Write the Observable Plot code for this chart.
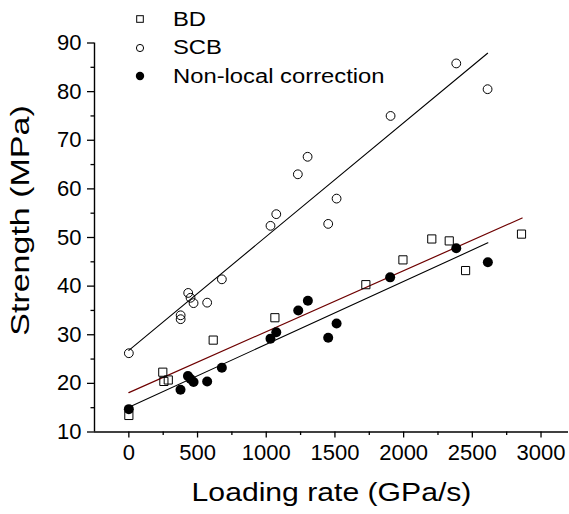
<!DOCTYPE html>
<html>
<head>
<meta charset="utf-8">
<script src="https://cdn.jsdelivr.net/npm/d3@7"></script>
<script src="https://cdn.jsdelivr.net/npm/@observablehq/plot@0.6"></script>
<style>
  body { margin: 0; background: #fff; }
  #wrap { position: relative; width: 569px; height: 514px; font-family: "Liberation Sans", Arial, sans-serif; }
  #legend { position: absolute; left: 132px; top: 5px; }
  .row { display: flex; align-items: center; height: 28.5px; }
  .row svg { width: 16px; height: 16px; margin-right: 25px; }
  .row span { font-size: 19.5px; color: #000; display: inline-block; transform: scaleX(1.22); transform-origin: left center; }
</style>
</head>
<body>
<div id="wrap"></div>
<script>
// BD (open squares)
const bdX = [0, 247, 255, 287, 614, 1063, 1725, 1995, 2205, 2332, 2451, 2858];
const bdY = [13.4, 22.3, 20.4, 20.7, 28.9, 33.5, 40.3, 45.4, 49.7, 49.3, 43.2, 50.7];
// SCB (open circles)
const scbX = [0, 377, 377, 432, 449, 471, 570, 677, 1031, 1073, 1230, 1301, 1451, 1512, 1905, 2383, 2611];
const scbY = [26.2, 34.0, 33.2, 38.6, 37.6, 36.5, 36.6, 41.4, 52.4, 54.8, 63.0, 66.6, 52.8, 58.0, 75.0, 85.8, 80.5];
// Non-local correction (filled circles)
const nlX = [0, 376, 430, 449, 471, 570, 677, 1031, 1073, 1233, 1303, 1451, 1512, 1902, 2383, 2613];
const nlY = [14.7, 18.7, 21.5, 20.9, 20.3, 20.4, 23.2, 29.2, 30.5, 35.0, 37.0, 29.4, 32.3, 41.8, 47.8, 44.9];
// Fit lines (end points)
const scbFitX = [0, 2611], scbFitY = [26.8, 87.9];
const bdFitX = [0, 2863], bdFitY = [18.1, 54.0];
const nlFitX = [0, 2613], nlFitY = [15.1, 48.9];
// Ticks
const xMajor = [0, 500, 1000, 1500, 2000, 2500, 3000];
const xMinor = [250, 750, 1250, 1750, 2250, 2750];
const yMajor = [10, 20, 30, 40, 50, 60, 70, 80, 90];
const yMinor = [15, 25, 35, 45, 55, 65, 75, 85];
const xLabel = "Loading rate (GPa/s)";
const yLabel = "Strength (MPa)";
const legendItems = ["BD", "SCB", "Non-local correction"];

const rows = (xs, ys) => xs.map((x, i) => ({x, y: ys[i]}));
const FONT = "'Liberation Sans', Arial, sans-serif";

const chart = Plot.plot({
  width: 569, height: 514,
  marginLeft: 94, marginRight: 1, marginTop: 42.5, marginBottom: 82.5,
  style: {fontFamily: FONT, background: "white", color: "black", overflow: "visible"},
  x: {domain: [-250, 3200]},
  y: {domain: [10, 90]},
  marks: [
    Plot.axisX(xMajor, {tickSize: 6, tickPadding: 6, fontSize: 22, label: null, strokeWidth: 1.3, tickFormat: d3.format("d")}),
    Plot.axisX(xMinor, {tickSize: 3.5, tickFormat: () => "", label: null, strokeWidth: 1.3}),
    Plot.axisY(yMajor, {tickSize: 7, tickPadding: 6, fontSize: 22, label: null, strokeWidth: 1.3, tickFormat: d3.format("d")}),
    Plot.axisY(yMinor, {tickSize: 3.5, tickFormat: () => "", label: null, strokeWidth: 1.3}),
    Plot.ruleY([10], {strokeWidth: 1.4}),
    Plot.ruleX([-250], {strokeWidth: 1.4}),
    Plot.line(rows(scbFitX, scbFitY), {x: "x", y: "y", stroke: "black", strokeWidth: 1.1}),
    Plot.line(rows(bdFitX, bdFitY), {x: "x", y: "y", stroke: "#6e0000", strokeWidth: 1.2}),
    Plot.line(rows(nlFitX, nlFitY), {x: "x", y: "y", stroke: "black", strokeWidth: 1.1}),
    Plot.dot(rows(bdX, bdY), {x: "x", y: "y", symbol: "square", r: 4.6, stroke: "black", fill: "none", strokeWidth: 1}),
    Plot.dot(rows(scbX, scbY), {x: "x", y: "y", symbol: "circle", r: 4.4, stroke: "black", fill: "none", strokeWidth: 1}),
    Plot.dot(rows(nlX, nlY), {x: "x", y: "y", symbol: "circle", r: 5, fill: "black", stroke: "none"}),
    Plot.text([xLabel], {frameAnchor: "bottom", textAnchor: "middle", dy: 69, fontSize: 26, text: d => d, lineAnchor: "middle"}),
    Plot.text([yLabel], {frameAnchor: "left", textAnchor: "middle", dx: -66, dy: -17, rotate: -90, fontSize: 25, text: d => d, lineAnchor: "middle"})
  ]
});

// widen the axis titles along their reading direction, as in the reference rendering
d3.select(chart).selectAll('g[aria-label="text"] text').each(function() {
  const t = this.getAttribute("transform") || "";
  const x = +this.getAttribute("x") || 0, y = +this.getAttribute("y") || 0;
  this.removeAttribute("x"); this.removeAttribute("y");
  const s = t.includes("rotate") ? 1.36 : 1.16;
  this.setAttribute("transform", `${t} translate(${x},${y}) scale(${s},1)`);
});

const wrap = document.getElementById("wrap");
wrap.appendChild(chart);

const markers = [
  '<svg viewBox="-8 -8 16 16"><rect x="-3.3" y="-3.3" width="6.6" height="6.6" fill="none" stroke="black" stroke-width="1"/></svg>',
  '<svg viewBox="-8 -8 16 16"><circle r="3.6" fill="none" stroke="black" stroke-width="1"/></svg>',
  '<svg viewBox="-8 -8 16 16"><circle r="4.2" fill="black"/></svg>'
];
const legend = document.createElement("div");
legend.id = "legend";
legend.innerHTML = legendItems.map((t, i) => `<div class="row">${markers[i]}<span>${t}</span></div>`).join("");
wrap.appendChild(legend);
</script>
</body>
</html>
